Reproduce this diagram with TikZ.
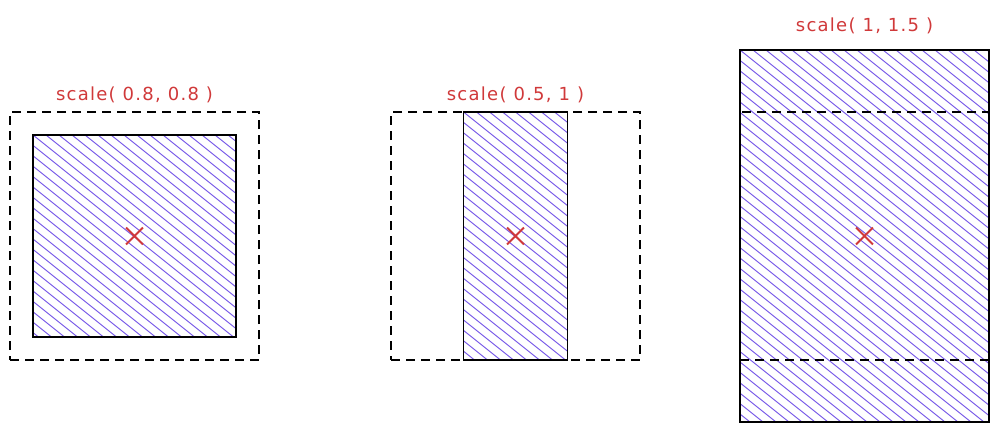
\documentclass[tikz,border=0pt]{standalone}
\usepackage{fontspec}
\newfontfamily\sketchfont[LetterSpace=7]{DejaVu Sans}
\usetikzlibrary{positioning, calc, shapes.misc}
\definecolor{hatch}{HTML}{7A5CE8}
\definecolor{marker}{HTML}{D0393A}
\tikzset{
    original/.style={
        draw=black, line width=1.8pt,
        dash pattern=on 9pt off 6pt,
        inner sep=0pt, outer sep=0pt,
    },
    hatchline/.style={
        draw=hatch, line width=1pt,
    },
    scaled/.style={
        draw=black, line width=1.8pt,
        inner sep=0pt, outer sep=0pt,
        path picture={
            \foreach \k in {-40,...,20}
                \draw[hatchline] ($(path picture bounding box.north west)+(\k*13,0)$) -- ++(500,400);
        },
    },
    centremark/.style={
        draw=marker, cross out, line width=1.8pt,
        minimum size=15pt, inner sep=0pt,
    },
    caption/.style={
        font=\sketchfont\fontsize{18}{21}\selectfont,
        text=marker,
    },
}
\begin{document}
\begin{tikzpicture}[x=1pt, y=-1pt]
\useasboundingbox (0,0) rectangle (999,434);

% =============================================
% Panel 1: scale(0.8, 0.8)
% =============================================
\node[original, minimum width=249pt, minimum height=248pt] (orig1) at (134.5,236) {};
\node[scaled, minimum width=203pt, minimum height=202pt] (box1) at (134.5,236) {};
\node[centremark] (mark1) at (box1.center) {};
\node[caption, above=6pt of orig1.north] (label1) {scale( 0.8, 0.8 )};

% =============================================
% Panel 2: scale(0.5, 1)
% =============================================
\node[original, minimum width=249pt, minimum height=248pt] (orig2) at (515.5,236) {};
\node[scaled, minimum width=104pt, minimum height=248pt] (box2) at (515.5,236) {};
\node[centremark] (mark2) at (box2.center) {};
\node[caption, above=6pt of orig2.north] (label2) {scale( 0.5, 1 )};

% =============================================
% Panel 3: scale(1, 1.5)
% =============================================
\node[scaled, minimum width=249pt, minimum height=372pt] (box3) at (864.5,236) {};
\node[original, minimum width=249pt, minimum height=248pt] (orig3) at (864.5,236) {};
\node[centremark] (mark3) at (box3.center) {};
\node[caption, above=13pt of box3.north] (label3) {scale( 1, 1.5 )};

\end{tikzpicture}
\end{document}
